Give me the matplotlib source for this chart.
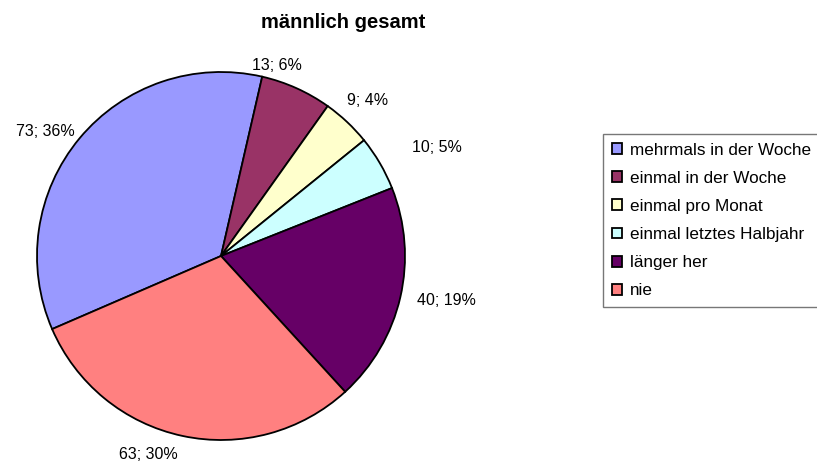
import numpy as np
import matplotlib.pyplot as plt

plt.rcParams['font.family'] = ['Liberation Sans', 'DejaVu Sans']

# Daten
kategorien = ['mehrmals in der Woche', 'einmal in der Woche', 'einmal pro Monat',
              'einmal letztes Halbjahr', 'länger her', 'nie']
anzahl = [73, 13, 9, 10, 40, 63]
prozent = [36, 6, 4, 5, 19, 30]
farben = ['#9999FF', '#993366', '#FFFFCC', '#CCFFFF', '#660066', '#FF8080']

# Beschriftungsabstand und Winkelkorrektur je Segment
lab_dist = [1.17, 1.08, 1.16, 1.31, 1.25, 1.15]
lab_shift = [4.5, 7.7, 0.0, -3.7, 1.9, -8.0]

fig = plt.figure(figsize=(8.17, 4.66), dpi=100)
W, H = 817, 466
cx, cy, r = 221, 256, 184
ax = fig.add_axes([(cx - r) / W, (H - cy - r) / H, 2 * r / W, 2 * r / H])

wedges, _ = ax.pie(anzahl, colors=farben, startangle=203.4, counterclock=False,
                   radius=1, wedgeprops=dict(edgecolor='black', linewidth=1.3))
ax.set_xlim(-1, 1)
ax.set_ylim(-1, 1)
ax.set_aspect('equal')
ax.axis('off')

for w, n, p, d, s in zip(wedges, anzahl, prozent, lab_dist, lab_shift):
    mid = np.deg2rad((w.theta1 + w.theta2) / 2 + s)
    ax.text(d * np.cos(mid), d * np.sin(mid), f'{n}; {p}%', ha='center', va='center',
            fontsize=11.5, clip_on=False)

fig.text(343 / W, 1 - 22 / H, 'männlich gesamt', ha='center', va='center',
         fontsize=14.5, fontweight='bold')

leg = fig.legend(wedges, kategorien, loc='upper left', bbox_to_anchor=(603 / W, 1 - 134 / H),
                 fontsize=12.3, frameon=True, fancybox=False, handlelength=0.6, handleheight=0.6,
                 handletextpad=0.5, labelspacing=0.77, borderpad=0.5, borderaxespad=0)
leg.get_frame().set_edgecolor('#555555')
leg.get_frame().set_linewidth(1.0)

fig.savefig('out.png', dpi=100)
